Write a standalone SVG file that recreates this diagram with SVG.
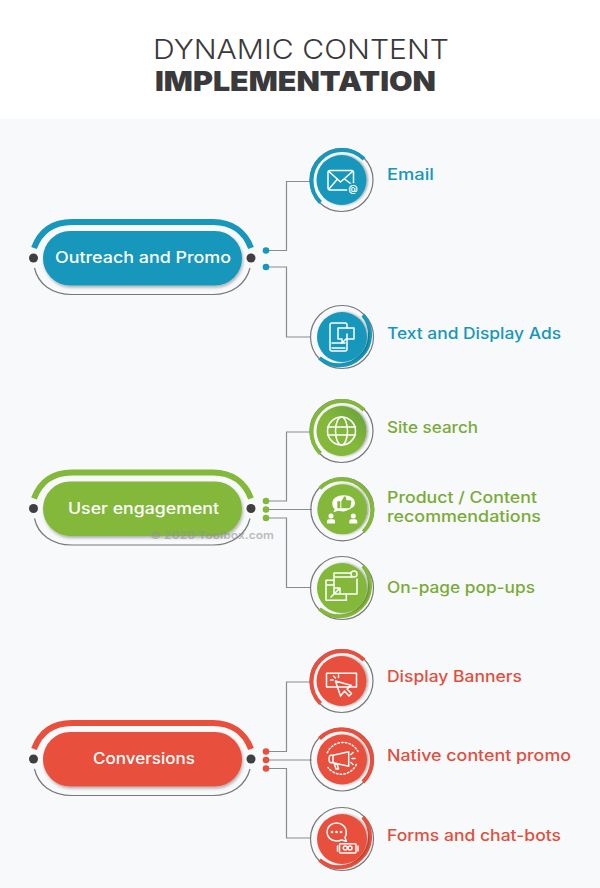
<svg xmlns="http://www.w3.org/2000/svg" width="600" height="888" viewBox="0 0 600 888">
<style>
text{font-family:"Inter","Liberation Sans",sans-serif}
.title{font-size:27.500px;fill:#3a3a3c}
.pt{font-size:15.500px;font-weight:500;fill:#fff}
.lb{font-size:15.500px;font-weight:500}
.con{fill:none;stroke:#8a8c8e;stroke-width:1.2}
.thin{fill:none;stroke:#77787a;stroke-width:1.2}
.ic{fill:none;stroke:#fff;stroke-width:1.5;stroke-linejoin:round;stroke-linecap:round}
.w{fill:#fff}
.hub{fill:#3f3f41}
.bs{stroke:#1697bb}.bf{fill:#1697bb}
.gs{stroke:#84b83a}.gf{fill:#84b83a}
.rs{stroke:#e94f3d}.rf{fill:#e94f3d}
.thick{fill:none;stroke-width:4}
.arcT{fill:none;stroke-width:6}
</style>
<defs>
<filter id="sh" x="-20%" y="-30%" width="140%" height="170%"><feDropShadow dx="1" dy="2" stdDeviation="1.5" flood-color="#000" flood-opacity=".3"/></filter>
<filter id="rs" x="-20%" y="-20%" width="140%" height="140%"><feDropShadow dx="1.500" dy="0" stdDeviation="1" flood-color="#000" flood-opacity=".35"/></filter>
<linearGradient id="gg" x1="0" y1="1" x2="1" y2="0"><stop offset=".5" stop-color="#84b83a"/><stop offset="1" stop-color="#64a03a"/></linearGradient>
</defs>
<rect width="600" height="888" fill="#f8f9fb"/>
<rect width="600" height="119" fill="#fff"/>
<g id="title">
<text class="title" x="153" y="58.500" font-weight="300" textLength="296" lengthAdjust="spacingAndGlyphs">DYNAMIC CONTENT</text>
<text class="title" x="155" y="90.700" font-weight="900" textLength="281" lengthAdjust="spacingAndGlyphs">IMPLEMENTATION</text>
</g>
<g id="connectors">
<path class="con" d="M269 250.500H286.500V181.500H310M269 267H286.500V337H311"/>
<path class="con" d="M269 501H286.500V432H310M269 509.500H312M269 518H286.500V587.500H311"/>
<path class="con" d="M269 751.500H286.500V682H310M269 760H312M269 768.500H286.500V838H311"/>
</g>
<g id="dots">
<circle class="bf" cx="266" cy="250.500" r="3.300"/><circle class="bf" cx="266" cy="267" r="3.300"/>
<circle class="gf" cx="266" cy="501" r="3.300"/><circle class="gf" cx="266" cy="509.500" r="3.300"/><circle class="gf" cx="266" cy="518" r="3.300"/>
<circle class="rf" cx="266" cy="751.500" r="3.300"/><circle class="rf" cx="266" cy="760" r="3.300"/><circle class="rf" cx="266" cy="768.500" r="3.300"/>
</g>

<g id="pill-outreach">
<path class="arcT bs" d="M34 248C40 232 52 222 72 222H213C232 222 245 232 251 248"/>
<path class="thin" d="M34.500 268C38 284 52 294.500 72 294.500H213C232 294.500 246 284 250 268"/>
<circle class="hub" cx="33.500" cy="258" r="4.500"/><circle class="hub" cx="251" cy="258" r="4.500"/>
<rect class="bf" x="43" y="231" width="199" height="54.500" rx="27" filter="url(#sh)"/>
<text class="pt" x="55" y="263" textLength="176" lengthAdjust="spacingAndGlyphs">Outreach and Promo</text>
</g>
<g id="pill-user">
<path class="arcT gs" d="M34 498.500C40 482.500 52 472.500 72 472.500H213C232 472.500 245 482.500 251 498.500"/>
<path class="thin" d="M34.500 518.500C38 534.500 52 545 72 545H213C232 545 246 534.500 250 518.500"/>
<circle class="hub" cx="33.500" cy="508.500" r="4.500"/><circle class="hub" cx="251" cy="508.500" r="4.500"/>
<rect class="gf" x="43" y="481.500" width="199" height="54.500" rx="27" filter="url(#sh)"/>
<text class="pt" x="68" y="513.500" textLength="151" lengthAdjust="spacingAndGlyphs">User engagement</text>
</g>
<g id="pill-conversions">
<path class="arcT rs" d="M34 749C40 733 52 723 72 723H213C232 723 245 733 251 749"/>
<path class="thin" d="M34.500 769C38 785 52 795.500 72 795.500H213C232 795.500 246 785 250 769"/>
<circle class="hub" cx="33.500" cy="759" r="4.500"/><circle class="hub" cx="251" cy="759" r="4.500"/>
<rect class="rf" x="43" y="732" width="199" height="54.500" rx="27" filter="url(#sh)"/>
<text class="pt" x="93" y="764" textLength="102" lengthAdjust="spacingAndGlyphs">Conversions</text>
</g>
<text id="watermark" x="150" y="539" font-size="11" font-weight="600" fill="#8f9193" fill-opacity=".6" textLength="124" lengthAdjust="spacingAndGlyphs">© 2020 Toolbox.com</text>

<g id="node-email" transform="translate(341.500 180)">
<circle class="thin" r="31.500"/><path class="thick bs" d="M22.500-21A30.700 30.700 0 1 0 -21 22.500"/>
<circle class="bf" r="25" filter="url(#rs)"/>
<rect class="ic" x="-13.500" y="-9.500" width="25.500" height="19.500" rx="2"/>
<path class="ic" d="M-12.500-8.500L-1 2 11-8.500M-12.500 9L-4-1M11 5L3-1"/>
<circle class="bf" cx="11.500" cy="9" r="6"/><text x="11.500" y="12" font-size="9" font-weight="700" fill="#fff" text-anchor="middle">@</text>
</g>
<text class="lb" x="387" y="180" fill="#1697bb" textLength="47" lengthAdjust="spacingAndGlyphs">Email</text>

<g id="node-ads" transform="translate(342 337)">
<circle class="thin" r="31.500"/><path class="thick bs" d="M21-22A30.700 30.700 0 0 1 -22.500 21"/>
<circle class="bf" r="25" filter="url(#rs)"/>
<path class="ic" d="M5-3V12Q5 14 3 14H-10Q-12 14-12 12V-12Q-12-14-10-14H3Q5-14 5-12V-9M-10 6H3M-10 11H3"/>
<path class="ic" d="M-4-9H12V2H4L0 6V2H-4Z" fill="#1697bb"/>
</g>
<text class="lb" x="387" y="339" fill="#1697bb" textLength="174" lengthAdjust="spacingAndGlyphs">Text and Display Ads</text>

<g id="node-search" transform="translate(341.500 431)">
<circle class="thin" r="31.500"/><path class="thick gs" d="M22.500-21A30.700 30.700 0 1 0 -21 22.500"/>
<circle fill="url(#gg)" r="25" filter="url(#rs)"/>
<circle class="ic" r="14" stroke-width="1.800"/><ellipse class="ic" rx="6" ry="14" stroke-width="1.800"/><path class="ic" stroke-width="1.800" d="M-14-4H14M-14 4H14"/>
</g>
<text class="lb" x="387" y="433" fill="#7aab36" textLength="91" lengthAdjust="spacingAndGlyphs">Site search</text>

<g id="node-recommendations" transform="translate(342.300 509.300)">
<circle class="thin" r="31.500"/><path class="thick gs" d="M-22.500-21A30.700 30.700 0 0 1 21 22.500"/>
<circle class="gf" r="25" filter="url(#rs)"/>
<path class="w" d="M1.500-14C-5-14-10-11-10-6C-10-3-9-1-7.500 0L-9 3-4 1.500C-2 2 0 2.300 1.500 2.300C8-.0 12.700-2 12.700-6C12.700-11 8-14 1.500-14Z"/>
<path class="gf" d="M-5-8H-2V-1H-5ZM-1-8L2-13Q4-13 4-10.500V-9H8Q9.500-9 9-7L8-2Q7.500-1 6.500-1H-1Z"/>
<circle class="w" cx="-11.300" cy="6.700" r="2.500"/><path class="w" d="M-15.300 14.300V12Q-15.300 10-13.300 10H-9.300Q-7.300 10-7.300 12V14.300Z"/>
<circle class="w" cx="11" cy="6.700" r="2.500"/><path class="w" d="M7 14.300V12Q7 10 9 10H13Q15 10 15 12V14.300Z"/>
</g>
<text class="lb" x="387" y="503" fill="#7aab36" textLength="150" lengthAdjust="spacingAndGlyphs">Product / Content</text>
<text class="lb" x="387" y="522" fill="#7aab36" textLength="154" lengthAdjust="spacingAndGlyphs">recommendations</text>

<g id="node-popups" transform="translate(342 588)">
<circle class="thin" r="31.500"/><path class="thick gs" d="M21-22A30.700 30.700 0 0 1 -22.500 21"/>
<circle class="gf" r="25" filter="url(#rs)"/>
<path class="ic" d="M-8-7.700H-16V12.300H4.300V6M-16-3H-8"/>
<path class="ic" d="M-8-15H9M15-9V6H-8V-15M-8-11H10"/>
<path class="ic" d="M-11 9L-2 0M-7 0H-2V5"/>
<circle class="ic" cx="12" cy="-14" r="3"/>
</g>
<text class="lb" x="387" y="593" fill="#7aab36" textLength="148" lengthAdjust="spacingAndGlyphs">On-page pop-ups</text>

<g id="node-banners" transform="translate(341.500 681)">
<circle class="thin" r="31.500"/><path class="thick rs" d="M22.500-21A30.700 30.700 0 1 0 -21 22.500"/>
<circle class="rf" r="25" filter="url(#rs)"/>
<path class="ic" d="M-15-7.700H15V6H-15Z"/>
<path class="ic" d="M-6 0L-1 15 3 10 7.500 15 10 12.500 5.500 8 10 4.500Z" fill="#e94f3d"/>
<path class="ic" d="M-8-5L-6-3M-11-1H-8.500M-3-6V-3.500"/>
</g>
<text class="lb" x="387" y="682" fill="#e0503f" textLength="135" lengthAdjust="spacingAndGlyphs">Display Banners</text>

<g id="node-promo" transform="translate(342 759.500)">
<circle class="thin" r="31.500"/><path class="thick rs" d="M-22.500-21A30.700 30.700 0 0 1 21 22.500"/>
<circle class="rf" r="25" filter="url(#rs)"/>
<path class="ic" d="M-9-4.300H-11Q-13-4.300-13-.5T-11 3.300H-9M-9-4.300L6.700-7.700V6.700L-9 3.300ZM-8 3.500L-6 9.500H-3.500L-5 4"/>
<path class="ic" stroke-dasharray="1.500 2.200" d="M-14.700-6.700A17 17 0 0 1 16-8M14.300 5A16.500 16.500 0 0 1-14 8"/>
<path class="ic" d="M10-1H13M9-5L11-7M9 3L11 5"/>
</g>
<text class="lb" x="387" y="761" fill="#e0503f" textLength="184" lengthAdjust="spacingAndGlyphs">Native content promo</text>

<g id="node-chatbots" transform="translate(342 839)">
<circle class="thin" r="31.500"/><path class="thick rs" d="M21-22A30.700 30.700 0 0 1 -22.500 21"/>
<circle class="rf" r="25" filter="url(#rs)"/>
<path class="ic" d="M-5.500-16C-11-16-15-12-15-7S-11 2-5.500 2C-3.500 2-2 1.800-.5 1L4.300 2.300 3 -1.500C4-3 4.300-5 4.300-7C4.300-12 0-16-5.500-16Z"/>
<circle class="w" cx="-10" cy="-7" r="1.300"/><circle class="w" cx="-5.500" cy="-7" r="1.300"/><circle class="w" cx="-1" cy="-7" r="1.300"/>
<rect class="ic" x="-2.500" y="4.700" width="16.500" height="9.300" rx="1"/>
<circle class="ic" cx="3.300" cy="9" r="2"/><circle class="ic" cx="8" cy="9" r="2"/>
<path class="ic" d="M-4.500 7V12M16 7V12"/>
</g>
<text class="lb" x="387" y="841" fill="#e0503f" textLength="174" lengthAdjust="spacingAndGlyphs">Forms and chat-bots</text>
</svg>
